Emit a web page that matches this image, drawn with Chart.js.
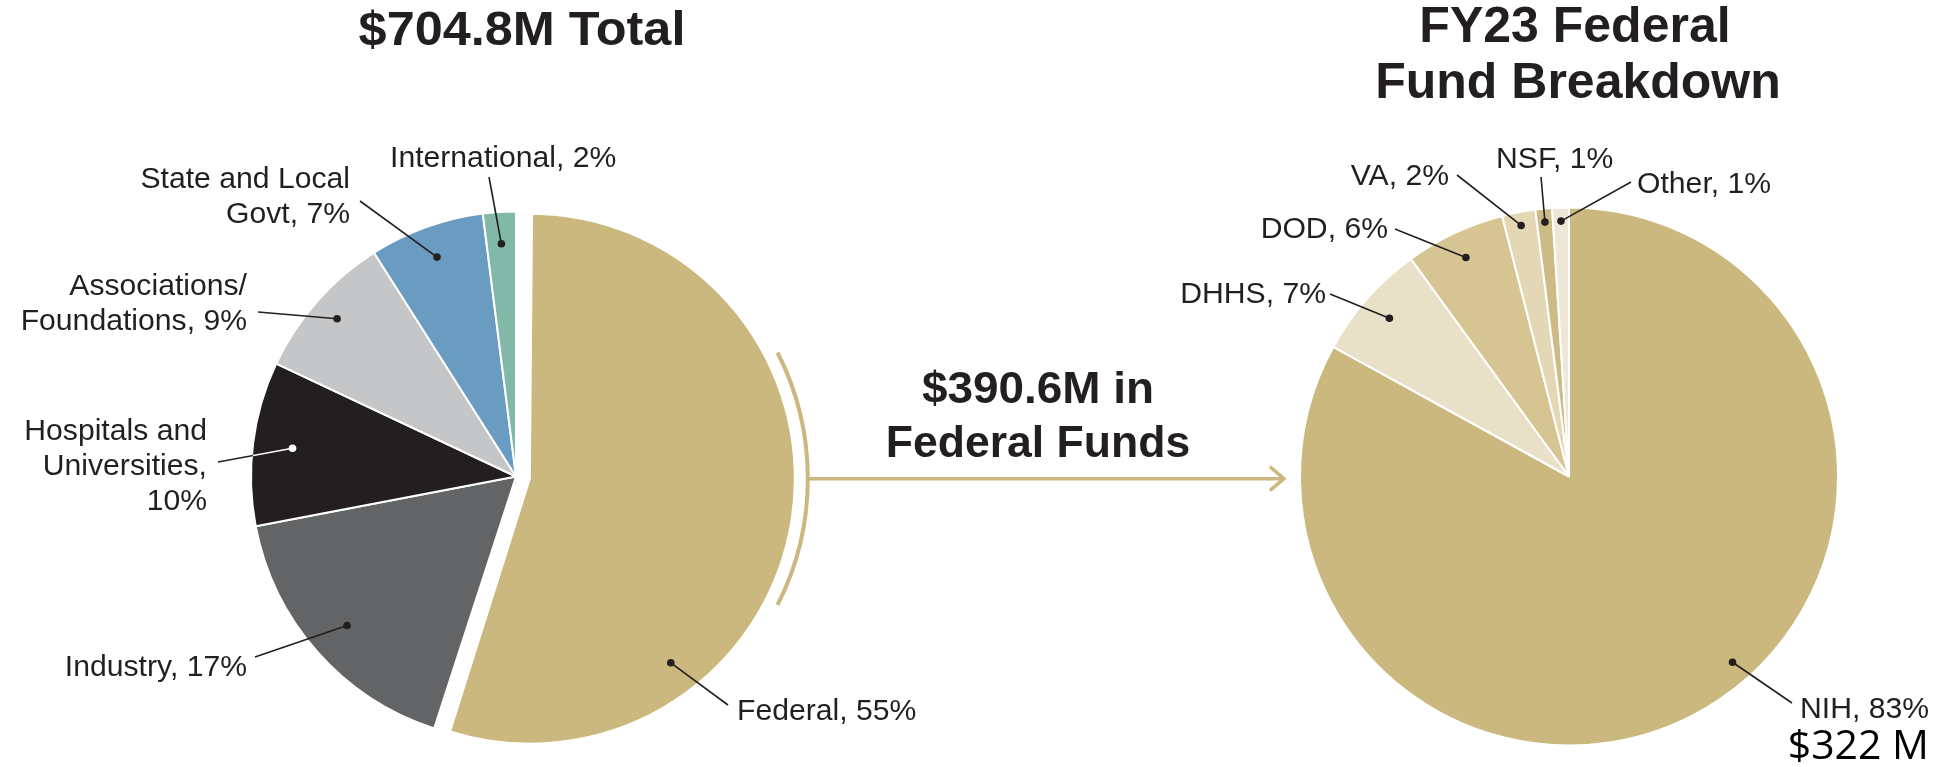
<!DOCTYPE html>
<html>
<head>
<meta charset="utf-8">
<script src="https://cdn.jsdelivr.net/npm/chart.js@4.4.0/dist/chart.umd.min.js"></script>
<style>
  html, body { margin: 0; padding: 0; background: #fff; }
  #wrap { position: relative; width: 1944px; height: 767px; overflow: hidden; }
  #wrap canvas { position: absolute; left: 0; top: 0; }
</style>
</head>
<body>
<div id="wrap">
  <canvas id="graficoTotal" width="1944" height="767"></canvas>
  <canvas id="graficoFederal" width="1944" height="767"></canvas>
</div>
<script>
// Dados
const totalTitle = '$704.8M Total';
const totalCategories = ['Federal', 'Industry', ['Hospitals and', 'Universities'], ['Associations/', 'Foundations'], ['State and Local', 'Govt'], 'International'];
const totalValues = [55, 17, 10, 9, 7, 2];

const federalTitle = ['FY23 Federal', 'Fund Breakdown'];
const federalCategories = ['NIH', 'DHHS', 'DOD', 'VA', 'NSF', 'Other'];
const federalValues = [83, 7, 6, 2, 1, 1];

const arrowText = ['$390.6M in', 'Federal Funds'];
const nihAmount = '$322 M';

// Cores
const gold = '#CBB87F';
const ink = '#231F20';
const totalColors = [gold, '#636466', '#231F20', '#C5C6C8', '#6A9CC2', '#82B8A8'];
const federalColors = [gold, '#E9E0C8', '#D6C593', '#E3D7B5', '#CDBB85', '#EEE7D7'];

// Posição dos rótulos (pos = fração ao longo da fatia, r = fração do raio)
const totalLayout = [
  { pos: 0.72, r: 0.875, lx: 728, ly: 705, tx: 737, ty: 720, align: 'left' },
  { pos: 0.5, r: 0.85, lx: 255, ly: 657, tx: 247, ty: 676, align: 'right' },
  { pos: 0.5, r: 0.85, lx: 218, ly: 462, tx: 207, ty: 440, align: 'right', pctLine: true, light: true },
  { pos: 0.5, r: 0.9, lx: 258, ly: 312, tx: 247, ty: 295, align: 'right' },
  { pos: 0.5, r: 0.88, lx: 360, ly: 201, tx: 350, ty: 188, align: 'right' },
  { pos: 0.5, r: 0.88, lx: 489, ly: 177, tx: 390, ty: 167, align: 'left' }
];
const federalLayout = [
  { pos: 0.464, r: 0.92, lx: 1792, ly: 703, tx: 1800, ty: 718, align: 'left' },
  { pos: 0.5, r: 0.89, lx: 1330, ly: 294, tx: 1326, ty: 303, align: 'right' },
  { pos: 0.5, r: 0.9, lx: 1395, ly: 229, tx: 1388, ty: 238, align: 'right' },
  { pos: 0.5, r: 0.95, lx: 1457, ly: 175, tx: 1449, ty: 185, align: 'right' },
  { pos: 0.5, r: 0.95, lx: 1541, ly: 177, tx: 1496, ty: 168, align: 'left' },
  { pos: 0.5, r: 0.95, lx: 1631, ly: 182, tx: 1637, ty: 193, align: 'left' }
];

const labelFont = '29px "Liberation Sans", Arial, sans-serif';
const lineGap = 35;

function drawText(ctx, text, x, y, font, align, sx, color) {
  ctx.save();
  ctx.font = font;
  ctx.fillStyle = color || ink;
  ctx.textAlign = align;
  ctx.textBaseline = 'alphabetic';
  ctx.translate(x, y);
  ctx.scale(sx, 1);
  ctx.fillText(text, 0, 0);
  ctx.restore();
}

// centro e raio efetivos de uma fatia (o Chart.js desloca offset/4)
function arcGeom(arc) {
  const shift = (arc.options.offset || 0) / 4;
  const mid = (arc.startAngle + arc.endAngle) / 2;
  const fix = 1 - Math.sin(Math.min(Math.PI, arc.circumference || 0));
  return {
    x: arc.x + Math.cos(mid) * shift,
    y: arc.y + Math.sin(mid) * shift,
    r: arc.outerRadius + shift * fix
  };
}

function labelLines(name, value, lay) {
  const lines = Array.isArray(name) ? name.slice() : [name];
  if (lay.pctLine) {
    lines[lines.length - 1] += ',';
    lines.push(value + '%');
  } else {
    lines[lines.length - 1] += ', ' + value + '%';
  }
  return lines;
}

// Rótulos com linha guia e ponto
function drawLabels(chart, names, values, layout) {
  const ctx = chart.ctx;
  const arcs = chart.getDatasetMeta(0).data;
  arcs.forEach((arc, i) => {
    const lay = layout[i];
    const g = arcGeom(arc);
    const a = arc.startAngle + (arc.endAngle - arc.startAngle) * lay.pos;
    const dx = g.x + Math.cos(a) * g.r * lay.r;
    const dy = g.y + Math.sin(a) * g.r * lay.r;

    ctx.save();
    ctx.strokeStyle = ink;
    ctx.lineWidth = 1.6;
    ctx.beginPath();
    ctx.moveTo(lay.lx, lay.ly);
    ctx.lineTo(dx, dy);
    ctx.stroke();
    if (lay.light) {
      // parte da linha dentro da fatia escura fica branca
      ctx.beginPath();
      ctx.arc(g.x, g.y, g.r - 1, 0, Math.PI * 2);
      ctx.clip();
      ctx.strokeStyle = '#fff';
      ctx.beginPath();
      ctx.moveTo(lay.lx, lay.ly);
      ctx.lineTo(dx, dy);
      ctx.stroke();
    }
    ctx.restore();

    ctx.save();
    ctx.fillStyle = lay.light ? '#fff' : ink;
    ctx.beginPath();
    ctx.arc(dx, dy, 3.8, 0, Math.PI * 2);
    ctx.fill();
    ctx.restore();

    labelLines(names[i], values[i], lay).forEach((t, k) => {
      drawText(ctx, t, lay.tx, lay.ty + k * lineGap, labelFont, lay.align, 1.04);
    });
  });
}

// mantém o raio da fatia deslocada igual ao das outras
const keepRadius = {
  id: 'keepRadius',
  afterDatasetUpdate(chart, args) {
    args.meta.data.forEach(arc => {
      const off = arc.options && arc.options.offset;
      if (off) {
        const fix = 1 - Math.sin(Math.min(Math.PI, arc.circumference || 0));
        arc.outerRadius -= (off / 4) * fix;
      }
    });
  }
};

const totalPlugin = {
  id: 'totalExtras',
  afterDraw(chart) {
    const ctx = chart.ctx;
    drawText(ctx, totalTitle, 522, 45, 'bold 48px "Liberation Sans", Arial, sans-serif', 'center', 1.05);
    drawLabels(chart, totalCategories, totalValues, totalLayout);

    // colchete em arco e seta
    const g = arcGeom(chart.getDatasetMeta(0).data[0]);
    const br = g.r + 13;
    const span = 27 * Math.PI / 180;
    const cy = g.y;
    ctx.save();
    ctx.strokeStyle = gold;
    ctx.lineWidth = 4;
    ctx.beginPath();
    ctx.arc(g.x, g.y, br, -span, span);
    ctx.stroke();
    ctx.lineWidth = 3.5;
    ctx.beginPath();
    ctx.moveTo(g.x + br, cy);
    ctx.lineTo(1284, cy);
    ctx.stroke();
    ctx.lineCap = 'round';
    ctx.beginPath();
    ctx.moveTo(1271, cy - 11);
    ctx.lineTo(1284, cy);
    ctx.lineTo(1271, cy + 11);
    ctx.stroke();
    ctx.restore();

    drawText(ctx, arrowText[0], 1038, 403, 'bold 45px "Liberation Sans", Arial, sans-serif', 'center', 1.02);
    drawText(ctx, arrowText[1], 1038, 457, 'bold 45px "Liberation Sans", Arial, sans-serif', 'center', 0.99);
  }
};

const federalPlugin = {
  id: 'federalExtras',
  afterDraw(chart) {
    const ctx = chart.ctx;
    drawText(ctx, federalTitle[0], 1575, 42, 'bold 50px "Liberation Sans", Arial, sans-serif', 'center', 1.0);
    drawText(ctx, federalTitle[1], 1578, 98, 'bold 50px "Liberation Sans", Arial, sans-serif', 'center', 1.0);
    drawLabels(chart, federalCategories, federalValues, federalLayout);
    drawText(ctx, nihAmount, 1929, 759, '41px "Open Sans", sans-serif', 'right', 1.0, '#000');
  }
};

const commonOptions = {
  responsive: false,
  animation: false,
  events: [],
  plugins: {
    legend: { display: false },
    tooltip: { enabled: false }
  }
};

new Chart(document.getElementById('graficoTotal'), {
  type: 'pie',
  data: {
    labels: totalCategories,
    datasets: [{
      data: totalValues,
      backgroundColor: totalColors,
      borderColor: '#fff',
      borderWidth: 2,
      offset: [56, 0, 0, 0, 0, 0]
    }]
  },
  options: {
    ...commonOptions,
    radius: 265,
    layout: { padding: { left: 216, right: 1128, top: 186, bottom: 0 } }
  },
  plugins: [keepRadius, totalPlugin]
});

new Chart(document.getElementById('graficoFederal'), {
  type: 'pie',
  data: {
    labels: federalCategories,
    datasets: [{
      data: federalValues,
      backgroundColor: federalColors,
      borderColor: '#fff',
      borderWidth: 2
    }]
  },
  options: {
    ...commonOptions,
    radius: 269,
    layout: { padding: { left: 1269, right: 75, top: 186, bottom: 0 } }
  },
  plugins: [federalPlugin]
});
</script>
</body>
</html>
